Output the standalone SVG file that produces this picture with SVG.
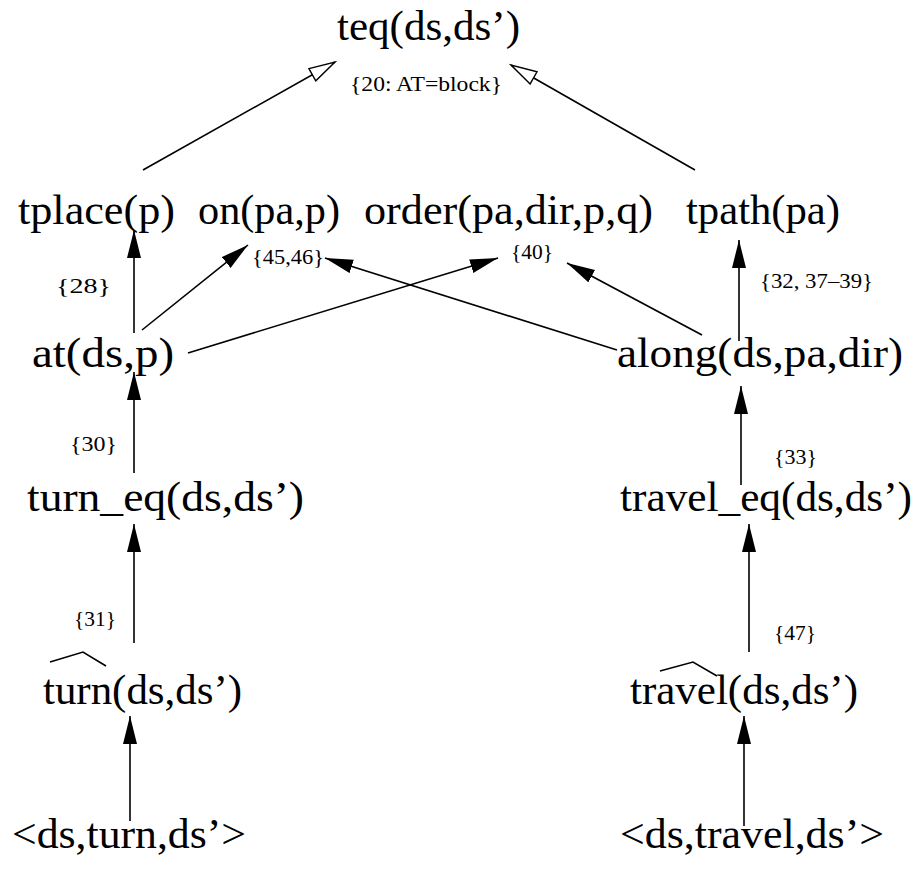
<svg xmlns="http://www.w3.org/2000/svg" width="919" height="869" viewBox="0 0 919 869">
<style>
.big{font-family:"Liberation Serif","Times New Roman",serif;font-size:43px;fill:#000}
.lbl{font-family:"Liberation Serif","Times New Roman",serif;font-size:21px;fill:#000}
.e{stroke:#000;stroke-width:1.6;fill:none}
</style>
<defs>
<marker id="fa" markerUnits="userSpaceOnUse" markerWidth="30" markerHeight="16" refX="28" refY="7" orient="auto" viewBox="0 0 30 16">
<path d="M0,0 L28,7 L0,14 z" fill="#000"/>
</marker>
<marker id="ha" markerUnits="userSpaceOnUse" markerWidth="30" markerHeight="18" refX="27" refY="8" orient="auto" viewBox="0 0 30 18">
<path d="M1,1 L27,8 L1,15 z" fill="#fff" stroke="#000" stroke-width="1.4"/>
</marker>
</defs>
<rect width="919" height="869" fill="#fff"/>
<g id="connectors">
<line class="e" x1="143" y1="170" x2="335" y2="62" marker-end="url(#ha)"/>
<line class="e" x1="695" y1="170" x2="511" y2="65" marker-end="url(#ha)"/>
<line class="e" x1="134" y1="333" x2="134" y2="230" marker-end="url(#fa)"/>
<line class="e" x1="142" y1="330" x2="248" y2="245" marker-end="url(#fa)"/>
<line class="e" x1="188" y1="353" x2="498" y2="258" marker-end="url(#fa)"/>
<line class="e" x1="617" y1="350" x2="325" y2="258" marker-end="url(#fa)"/>
<line class="e" x1="702" y1="335" x2="567" y2="263" marker-end="url(#fa)"/>
<line class="e" x1="739" y1="341" x2="739" y2="240" marker-end="url(#fa)"/>
<line class="e" x1="134" y1="473" x2="134" y2="372" marker-end="url(#fa)"/>
<line class="e" x1="741" y1="485" x2="741" y2="386" marker-end="url(#fa)"/>
<line class="e" x1="134" y1="643" x2="134" y2="524" marker-end="url(#fa)"/>
<line class="e" x1="749" y1="652" x2="749" y2="524" marker-end="url(#fa)"/>
<line class="e" x1="130" y1="821" x2="130" y2="716" marker-end="url(#fa)"/>
<line class="e" x1="744" y1="826" x2="744" y2="716" marker-end="url(#fa)"/>
</g>
<g id="teq"><text class="big" x="337" y="40" textLength="183" lengthAdjust="spacingAndGlyphs">teq(ds,ds’)</text></g>
<g id="lbl20"><text class="lbl" x="350" y="91" textLength="152" lengthAdjust="spacingAndGlyphs">{20: AT=block}</text></g>
<g id="tplace"><text class="big" x="18" y="224" textLength="157" lengthAdjust="spacingAndGlyphs">tplace(p)</text></g>
<g id="on"><text class="big" x="198" y="224" textLength="142" lengthAdjust="spacingAndGlyphs">on(pa,p)</text></g>
<g id="order"><text class="big" x="364" y="224" textLength="289" lengthAdjust="spacingAndGlyphs">order(pa,dir,p,q)</text></g>
<g id="tpath"><text class="big" x="686" y="224" textLength="154" lengthAdjust="spacingAndGlyphs">tpath(pa)</text></g>
<g id="lbl45"><text class="lbl" x="252" y="264" textLength="72" lengthAdjust="spacingAndGlyphs">{45,46}</text></g>
<g id="lbl40"><text class="lbl" x="511" y="259" textLength="42" lengthAdjust="spacingAndGlyphs">{40}</text></g>
<g id="lbl28"><text class="lbl" x="56" y="293" textLength="55" lengthAdjust="spacingAndGlyphs">{28}</text></g>
<g id="lbl32"><text class="lbl" x="760" y="288" textLength="113" lengthAdjust="spacingAndGlyphs">{32, 37–39}</text></g>
<g id="at"><text class="big" x="32" y="367" textLength="142" lengthAdjust="spacingAndGlyphs">at(ds,p)</text></g>
<g id="along"><text class="big" x="617" y="367" textLength="286" lengthAdjust="spacingAndGlyphs">along(ds,pa,dir)</text></g>
<g id="lbl30"><text class="lbl" x="70" y="451" textLength="47" lengthAdjust="spacingAndGlyphs">{30}</text></g>
<g id="lbl33"><text class="lbl" x="774" y="464" textLength="43" lengthAdjust="spacingAndGlyphs">{33}</text></g>
<g id="turn_eq"><text class="big" x="27" y="511" textLength="277" lengthAdjust="spacingAndGlyphs">turn_eq(ds,ds’)</text></g>
<g id="travel_eq"><text class="big" x="620" y="511" textLength="292" lengthAdjust="spacingAndGlyphs">travel_eq(ds,ds’)</text></g>
<g id="lbl31"><text class="lbl" x="74" y="626" textLength="42" lengthAdjust="spacingAndGlyphs">{31}</text></g>
<g id="lbl47"><text class="lbl" x="774" y="640" textLength="42" lengthAdjust="spacingAndGlyphs">{47}</text></g>
<g id="turn"><polyline class="e" points="50,662 83,652 106,666"/><text class="big" x="43" y="704" textLength="199" lengthAdjust="spacingAndGlyphs">turn(ds,ds’)</text></g>
<g id="travel"><polyline class="e" points="660,671 693,662 717,676"/><text class="big" x="630" y="704" textLength="228" lengthAdjust="spacingAndGlyphs">travel(ds,ds’)</text></g>
<g id="ds_turn"><text class="big" x="12" y="848" textLength="234" lengthAdjust="spacingAndGlyphs">&lt;ds,turn,ds’&gt;</text></g>
<g id="ds_travel"><text class="big" x="620" y="848" textLength="264" lengthAdjust="spacingAndGlyphs">&lt;ds,travel,ds’&gt;</text></g>
</svg>
